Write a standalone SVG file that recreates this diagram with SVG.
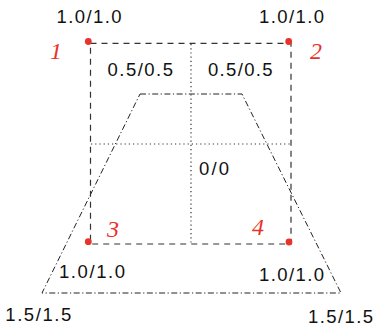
<svg xmlns="http://www.w3.org/2000/svg" width="375" height="328" viewBox="0 0 375 328">
<style>
.lbl{font-family:"Liberation Sans",Arial,sans-serif;font-size:18.5px;fill:#111}
.num{font-family:"Liberation Serif","Times New Roman",serif;font-style:italic;font-size:24px;fill:#e8332a}
.dash{fill:none;stroke:#333;stroke-width:1.2;stroke-dasharray:6 5}
.dot{fill:none;stroke:#333;stroke-width:1.2;stroke-dasharray:1.2 3}
.dd{fill:none;stroke:#222;stroke-width:1;stroke-dasharray:6 2.5 1.2 2.5}
.pt{fill:#e8332a}
</style>
<rect width="375" height="328" fill="#fff"/>
<g id="connectors">
<polygon class="dd" points="140,94 242,94 341,293 42,293"/>
<line class="dot" x1="191" y1="44" x2="191" y2="243"/>
<line class="dot" x1="91" y1="144" x2="290" y2="144"/>
<rect class="dash" x="90.5" y="43.3" width="200.5" height="200.7"/>
</g>
<g id="p1"><circle class="pt" cx="88.3" cy="41.5" r="3.4"/><text class="num" x="50" y="59">1</text><text class="lbl" x="56.5" y="22.7" textLength="65" lengthAdjust="spacing">1.0/1.0</text></g>
<g id="p2"><circle class="pt" cx="288.7" cy="41.5" r="3.4"/><text class="num" x="310" y="59">2</text><text class="lbl" x="259" y="22.7" textLength="65" lengthAdjust="spacing">1.0/1.0</text></g>
<g id="p3"><circle class="pt" cx="88.3" cy="241.7" r="3.4"/><text class="num" x="107" y="236.7">3</text><text class="lbl" x="59" y="277.7" textLength="66" lengthAdjust="spacing">1.0/1.0</text></g>
<g id="p4"><circle class="pt" cx="289" cy="242" r="3.4"/><text class="num" x="252" y="235">4</text><text class="lbl" x="259" y="281" textLength="65" lengthAdjust="spacing">1.0/1.0</text></g>
<g id="mid-left"><text class="lbl" x="107.5" y="76" textLength="65.5" lengthAdjust="spacing">0.5/0.5</text></g>
<g id="mid-right"><text class="lbl" x="208" y="76" textLength="64.5" lengthAdjust="spacing">0.5/0.5</text></g>
<g id="center"><text class="lbl" x="199" y="175" textLength="30" lengthAdjust="spacing">0/0</text></g>
<g id="outer-left"><text class="lbl" x="5.3" y="320.7" textLength="66" lengthAdjust="spacing">1.5/1.5</text></g>
<g id="outer-right"><text class="lbl" x="308" y="322.7" textLength="65" lengthAdjust="spacing">1.5/1.5</text></g>
</svg>
